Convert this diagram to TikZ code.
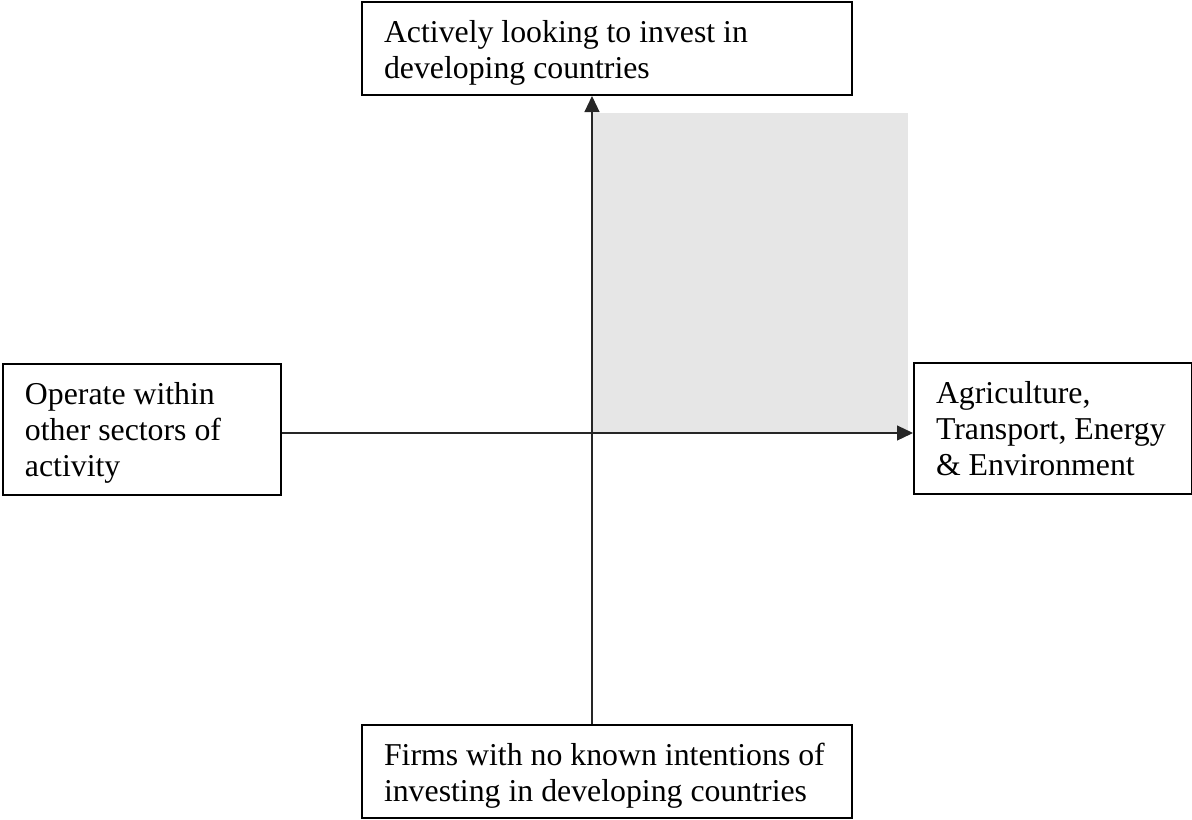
\documentclass[tikz,border=0pt]{standalone}
\usepackage{fontspec}
\setmainfont{Liberation Serif}
\usetikzlibrary{arrows.meta,calc}
\definecolor{quadgray}{RGB}{230,230,230}
\newcommand{\boxtext}[3]{\parbox[c][#2][t]{#1}{\raggedright\rule{0pt}{20pt}#3}}
\tikzset{
  qbox/.style={draw=black, line width=1pt, fill=white, inner xsep=11pt, inner ysep=0pt, anchor=north west,
    font=\fontsize{15.9}{18}\selectfont},
  axis/.style={line width=0.6pt, draw=black!85, -{Triangle[length=8pt,width=7.5pt]}},
}
\begin{document}
\begin{tikzpicture}[x=0.5pt,y=-0.5pt]
\useasboundingbox (0,0) rectangle (1192,819);
\fill[fill=quadgray] (592,113) rectangle (908,433);
\coordinate (o) at (592,433);
\node[qbox] (top) at (361,1) {\boxtext{223pt}{46.5pt}{Actively looking to invest in\\developing countries}};
\node[qbox] (bottom) at (361,724) {\boxtext{223pt}{46.5pt}{Firms with no known intentions of\\investing in developing countries}};
\node[qbox] (left) at (2,363) {\boxtext{117pt}{65.5pt}{Operate within\\other sectors of\\activity}};
\node[qbox] (right) at (913,362) {\boxtext{117pt}{65.5pt}{Agriculture,\\Transport, Energy\\\&~Environment}};
\draw[axis] (o |- bottom.north) -- (o |- top.south);
\draw[axis] (left.east |- o) -- (right.west |- o);
\end{tikzpicture}
\end{document}
